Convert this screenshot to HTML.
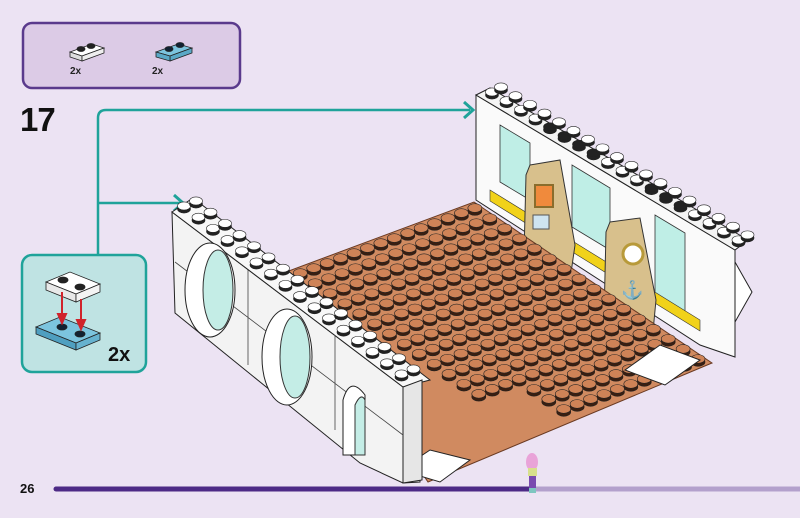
<!DOCTYPE html>
<html><head><meta charset="utf-8"><style>
html,body{margin:0;padding:0;background:#ece3f3;}
body{width:800px;height:513px;overflow:hidden;position:relative;font-family:"Liberation Sans",sans-serif;}
</style></head><body>
<svg id="s" width="800" height="513" viewBox="0 0 800 513" xmlns="http://www.w3.org/2000/svg">
<rect width="800" height="513" fill="#ece3f3"/>
<rect x="23" y="23" width="217" height="65" rx="9" fill="#dccbe6" stroke="#5a3a8c" stroke-width="2.5"/>
<g stroke="#222" stroke-width="0.8">
<polygon points="70,52 92,44 104,48 82,56" fill="#fff"/>
<polygon points="70,52 82,56 82,61 70,57" fill="#ddd"/>
<polygon points="82,56 104,48 104,53 82,61" fill="#eee"/>
<ellipse cx="81" cy="49" rx="4" ry="2.5" fill="#222"/><ellipse cx="91" cy="46" rx="4" ry="2.5" fill="#222"/>
<polygon points="156,52 178,44 192,48 170,56" fill="#7cc4de"/>
<polygon points="170,56 192,48 192,53 170,61" fill="#5aa8c6"/>
<polygon points="156,52 170,56 170,61 156,57" fill="#5aa8c6"/>
<ellipse cx="169" cy="49" rx="4" ry="2.5" fill="#123"/><ellipse cx="180" cy="45" rx="4" ry="2.5" fill="#123"/>
</g>
<text x="70" y="74" font-size="10" font-weight="bold" fill="#222">2x</text>
<text x="152" y="74" font-size="10" font-weight="bold" fill="#222">2x</text>
<text x="20" y="131" font-size="33" font-weight="bold" fill="#111" letter-spacing="-1">17</text>
<path d="M98,255 V118 Q98,110 106,110 H470" fill="none" stroke="#1fa39a" stroke-width="2.5"/>
<path d="M98,203 H180" fill="none" stroke="#1fa39a" stroke-width="2.5"/>
<path d="M464,102 L473,110 L464,118" fill="none" stroke="#1fa39a" stroke-width="3"/>
<path d="M174,195 L183,203 L174,211" fill="none" stroke="#1fa39a" stroke-width="3"/>
<rect x="22" y="255" width="124" height="117" rx="10" fill="#bfe3e3" stroke="#1fa39a" stroke-width="2.5"/>
<g stroke="#222" stroke-width="0.8">
<polygon points="46,282 70,272 100,284 76,294" fill="#fff"/>
<polygon points="46,282 76,294 76,302 46,290" fill="#e8e8e8"/>
<polygon points="76,294 100,284 100,292 76,302" fill="#f4f4f4"/>
<ellipse cx="63" cy="280" rx="5" ry="3" fill="#222"/><ellipse cx="80" cy="287" rx="5" ry="3" fill="#222"/>
<polygon points="36,327 60,317 100,333 76,343" fill="#7cc4de"/>
<polygon points="36,327 76,343 76,350 36,334" fill="#4f9fc0"/>
<polygon points="76,343 100,333 100,340 76,350" fill="#66b2cf"/>
<ellipse cx="62" cy="327" rx="5" ry="3" fill="#123"/><ellipse cx="80" cy="334" rx="5" ry="3" fill="#123"/>
</g>
<g stroke="#d0232b" stroke-width="2" fill="#d0232b">
<line x1="62" y1="292" x2="62" y2="316"/><polygon points="58,314 66,314 62,323"/>
<line x1="81" y1="299" x2="81" y2="322"/><polygon points="77,320 85,320 81,329"/>
</g>
<text x="108" y="361" font-size="20" font-weight="bold" fill="#111">2x</text>
<text x="20" y="493" font-size="13" font-weight="bold" fill="#111">26</text>
<line x1="56" y1="489" x2="530" y2="489" stroke="#4d2a86" stroke-width="5" stroke-linecap="round"/>
<line x1="530" y1="489" x2="800" y2="489" stroke="#b3a0cc" stroke-width="5"/>
<!-- back wall -->
<polygon points="476,95 735,250 735,357 700,345 476,200" fill="#fafafa" stroke="#222" stroke-width="1"/>
<polygon points="476,95 490,88 748,240 735,250" fill="#f4f4f4" stroke="#222" stroke-width="1"/>
<polygon points="500,125 530,143 530,200 500,182" fill="#bfeee6" stroke="#333" stroke-width="0.8"/>
<polygon points="572,165 610,188 610,250 572,227" fill="#bfeee6" stroke="#333" stroke-width="0.8"/>
<polygon points="655,215 685,233 685,312 655,294" fill="#bfeee6" stroke="#333" stroke-width="0.8"/>
<polygon points="490,190 700,320 700,331 490,201" fill="#f1d21a" stroke="#333" stroke-width="0.6"/>
<polygon points="735,262 752,292 735,322" fill="#fff" stroke="#222"/>
<polygon points="530,165 560,160 575,245 570,280 524,255 526,175" fill="#d8c08c" stroke="#333" stroke-width="1"/>
<polygon points="610,222 640,218 656,300 652,342 604,318 606,232" fill="#d8c08c" stroke="#333" stroke-width="1"/>
<rect x="535" y="185" width="18" height="22" fill="#f08a3c" stroke="#8a6d2c" stroke-width="2"/>
<rect x="533" y="215" width="16" height="14" fill="#cfe4f0" stroke="#555"/>
<circle cx="633" cy="254" r="10" fill="#fff" stroke="#b89a3a" stroke-width="3"/>
<text x="621" y="296" font-size="18" fill="#3a7ab0">⚓</text>
<g id="bw"></g>
<!-- floor -->
<polygon points="474,202 712,363 428,482 286,272" fill="#d08a60" stroke="#6a3a22" stroke-width="1"/>
<g id="fl"></g>
<polygon points="625,370 660,345 700,360 665,385" fill="#fff" stroke="#222"/>
<polygon points="400,470 430,450 470,460 440,482" fill="#fff" stroke="#222"/>
<!-- left wall -->
<polygon points="172,212 403,387 420,390 420,482 403,483 360,463 175,313" fill="#f3f3f3" stroke="#222" stroke-width="1"/>
<polygon points="172,212 193,198 430,380 403,387" fill="#f8f8f8" stroke="#222" stroke-width="1"/>
<polygon points="403,387 422,380 422,480 403,483" fill="#e6e6e6" stroke="#222"/>
<path d="M175,262 L403,435 M248,270 V365 M335,335 V430" stroke="#444" stroke-width="0.8" fill="none"/>
<ellipse cx="210" cy="290" rx="25" ry="47" fill="#fff" stroke="#222"/>
<ellipse cx="218" cy="290" rx="15" ry="40" fill="#c4ede6" stroke="#333"/>
<ellipse cx="287" cy="357" rx="25" ry="48" fill="#fff" stroke="#222"/>
<ellipse cx="295" cy="357" rx="15" ry="41" fill="#c4ede6" stroke="#333"/>
<path d="M343,455 V400 Q350,375 365,395 V455 Z" fill="#fff" stroke="#222"/>
<path d="M355,455 V405 Q361,392 365,400 V455 Z" fill="#c4ede6" stroke="#333"/>
<g id="lw"></g>
<ellipse cx="532" cy="462" rx="6" ry="9" fill="#e9a3d8"/>
<rect x="528" y="468" width="9" height="8" fill="#d8e08c"/>
<rect x="529" y="476" width="7" height="12" fill="#7a4ab0"/>
<rect x="529" y="488" width="7" height="5" fill="#7ec6c0"/>
</svg>
<script>
var NS="http://www.w3.org/2000/svg";
function el(p,t,a){var e=document.createElementNS(NS,t);for(var k in a)e.setAttribute(k,a[k]);p.appendChild(e);return e;}
function stud(g,x,y,c1,top,r){r=r||6.5;el(g,"ellipse",{cx:x,cy:y+3,rx:r,ry:r*0.62,fill:c1,stroke:"#222","stroke-width":0.6});el(g,"rect",{x:x-r,y:y,width:2*r,height:3,fill:c1});el(g,"ellipse",{cx:x,cy:y,rx:r,ry:r*0.62,fill:top,stroke:"#222","stroke-width":0.6});}
var fl=document.getElementById("fl");
for(var v=0;v<14;v++)for(var u=0;u<16;u++){
 var x=474+(u+0.6)*238/16+(v+0.6)*(-188/14), y=202+(u+0.6)*161/16+(v+0.6)*70/14;
 if(u>12 && v>10) continue;
 stud(fl,x,y-3,"#3a1e10","#cf8357",7);
}
var bw=document.getElementById("bw");
for(var i=0;i<18;i++){var x=492+i*14.5,y=92+i*8.7;stud(bw,x,y,"#222",(i>3&&i<8)||(i>10&&i<14)?"#222":"#fff");stud(bw,x+9,y-5,"#222","#fff");}
var lw=document.getElementById("lw");
for(var i=0;i<16;i++){var x=184+i*14.5,y=206+i*11.2;stud(lw,x,y,"#222","#fff");stud(lw,x+12,y-5,"#222","#fff");}
</script>
</body></html>
